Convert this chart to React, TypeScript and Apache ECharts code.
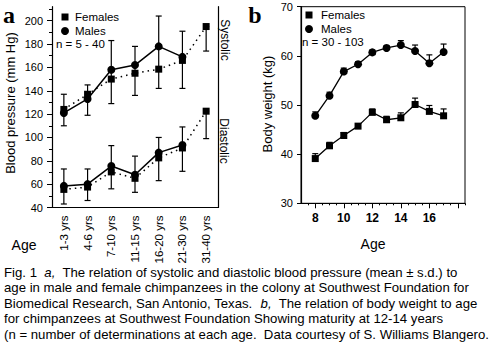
import React, { useEffect, useRef } from 'react';
import * as echarts from 'echarts';

// ---------- Panel a data ----------
const ageGroups = ['1-3 yrs', '4-6 yrs', '7-10 yrs', '11-15 yrs', '16-20 yrs', '21-30 yrs', '31-40 yrs'];
const sysMales = [121, 133, 158, 162, 178, 169, null];
const sysFemales = [124, 137, 150, 155, 158.5, 166, 195];
const sysErrLow = [110, 119, 129, 136, 142, 142, 174];
const sysErrHigh = [137, 145, 183, 178, 204, 191, 195];
const diaMales = [58.5, 60, 75.5, 68, 87, 93.5, null];
const diaFemales = [55.5, 57.5, 70.5, 65, 82.5, 91, 122.5];
const diaErrLow = [43, 46, 56, 53, 63, 71, 99];
const diaErrHigh = [73, 73, 93, 84, 100, 109, 122.5];
const bpTicks = [40, 60, 80, 100, 120, 140, 160, 180, 200];
const bpMinorTicks = [50, 70, 90, 110, 130, 150, 170, 190, 210];

// ---------- Panel b data ----------
const ages = [8, 9, 10, 11, 12, 13, 14, 15, 16, 17];
const weightMales = [47.8, 51.9, 56.8, 58.3, 60.7, 61.6, 62.2, 61.0, 58.5, 60.8];
const weightMalesTop = [48.6, 52.6, 57.5, 58.8, 61.2, 62.1, 63.1, 62.2, 60.2, 62.4];
const weightFemales = [39.1, 41.7, 43.8, 45.7, 48.5, 47.0, 47.4, 50.1, 48.7, 47.8];
const weightFemalesTop = [40.1, 42.4, 44.4, 46.2, 49.2, 47.7, 48.4, 51.4, 49.9, 49.2];
const ageLabelTicks = [8, 10, 12, 14, 16];
const ageMajorTicks = [8, 10, 12, 14, 16, 18];
const ageMinorTicks = [7.5, 8.5, 9, 9.5, 10.5, 11, 11.5, 12.5, 13, 13.5, 14.5, 15, 15.5, 16.5, 17, 17.5, 18.5];

const FONT = 'Liberation Sans, Arial, sans-serif';
const BLACK = '#000';
const CAP = 13.2;

const errBoth = (params: any, api: any) => {
  const x = api.value(0);
  const lo = api.coord([x, api.value(1)]);
  const hi = api.coord([x, api.value(2)]);
  const w = 3;
  const st = { stroke: BLACK, lineWidth: 1.2 };
  return {
    type: 'group',
    children: [
      { type: 'line', shape: { x1: lo[0], y1: lo[1], x2: hi[0], y2: hi[1] }, style: st },
      { type: 'line', shape: { x1: lo[0] - w, y1: lo[1], x2: lo[0] + w, y2: lo[1] }, style: st },
      { type: 'line', shape: { x1: hi[0] - w, y1: hi[1], x2: hi[0] + w, y2: hi[1] }, style: st },
    ],
  };
};

const errUp = (params: any, api: any) => {
  const x = api.value(0);
  const lo = api.coord([x, api.value(1)]);
  const hi = api.coord([x, api.value(2)]);
  const w = 3;
  const st = { stroke: BLACK, lineWidth: 1.2 };
  return {
    type: 'group',
    children: [
      { type: 'line', shape: { x1: lo[0], y1: lo[1], x2: hi[0], y2: hi[1] }, style: st },
      { type: 'line', shape: { x1: hi[0] - w, y1: hi[1], x2: hi[0] + w, y2: hi[1] }, style: st },
    ],
  };
};

const txt = (text: string, x: number, y: number, opts: any = {}) => ({
  type: 'text',
  x,
  y,
  rotation: opts.rotation || 0,
  style: {
    text,
    fill: BLACK,
    fontFamily: opts.family || FONT,
    fontSize: opts.size || 11.5,
    fontWeight: opts.weight || 'normal',
    fontStyle: opts.style || 'normal',
    align: opts.align || 'left',
    textAlign: opts.align || 'left',
    verticalAlign: 'middle',
    textVerticalAlign: 'middle',
    rich: opts.rich,
  },
});

const italicRich = { i: { fontStyle: 'italic', fontFamily: FONT, fontSize: CAP, fill: BLACK } };

export default function App() {
  const ref = useRef<HTMLDivElement>(null);
  useEffect(() => {
    const chart = echarts.init(ref.current!, null, { renderer: 'svg' });
    const axisLabelBase = { color: BLACK, fontFamily: FONT, fontSize: 11 };
    const option: any = {
      animation: false,
      backgroundColor: '#fff',
      grid: [
        { left: 52, top: 6.7, width: 166, height: 200.8 },
        { left: 301, top: 6.7, width: 164, height: 196.6, show: true, borderColor: BLACK, borderWidth: 1, backgroundColor: 'transparent' },
      ],
      xAxis: [
        {
          gridIndex: 0, type: 'category', data: ageGroups, boundaryGap: true,
          axisLine: { lineStyle: { color: BLACK, width: 1.2 } },
          axisTick: { alignWithLabel: true, length: 5, lineStyle: { color: BLACK } },
          axisLabel: { ...axisLabelBase, fontSize: 11.5, rotate: 90, margin: 8, interval: 0 },
          splitLine: { show: false },
        },
        {
          gridIndex: 1, type: 'value', min: 7, max: 18.5,
          axisLine: { lineStyle: { color: BLACK, width: 1.2 } },
          axisTick: { customValues: ageMajorTicks, length: 5, lineStyle: { color: BLACK } },
          axisLabel: { ...axisLabelBase, customValues: ageLabelTicks, fontSize: 12, fontWeight: 'bold', margin: 9 },
          splitLine: { show: false },
        },
        {
          gridIndex: 1, type: 'value', min: 7, max: 18.5, position: 'bottom',
          axisLine: { show: false },
          axisTick: { customValues: ageMinorTicks, length: 2, lineStyle: { color: BLACK } },
          axisLabel: { show: false },
          splitLine: { show: false },
        },
      ],
      yAxis: [
        {
          gridIndex: 0, type: 'value', min: 40, max: 212,
          axisLine: { show: true, lineStyle: { color: BLACK, width: 1.2 } },
          axisTick: { show: true, customValues: bpTicks, length: 5, lineStyle: { color: BLACK } },
          axisLabel: { ...axisLabelBase, customValues: bpTicks, margin: 9 },
          splitLine: { show: false },
        },
        {
          gridIndex: 0, type: 'value', min: 40, max: 212, position: 'left',
          axisLine: { show: false },
          axisTick: { show: true, customValues: bpMinorTicks, length: 3, lineStyle: { color: BLACK } },
          axisLabel: { show: false },
          splitLine: { show: false },
        },
        {
          gridIndex: 0, type: 'value', min: 40, max: 212, position: 'right',
          axisLine: { show: true, lineStyle: { color: BLACK, width: 1.2 } },
          axisTick: { show: false },
          axisLabel: { show: false },
          splitLine: { show: false },
        },
        {
          gridIndex: 1, type: 'value', min: 30, max: 70, interval: 10,
          axisLine: { show: true, lineStyle: { color: BLACK, width: 1.2 } },
          axisTick: { show: true, length: 4, lineStyle: { color: BLACK } },
          axisLabel: { ...axisLabelBase, margin: 8 },
          splitLine: { show: false },
        },
      ],
      series: [
        { type: 'custom', xAxisIndex: 0, yAxisIndex: 0, renderItem: errBoth, encode: { x: 0, y: [1, 2] }, z: 1,
          data: sysErrLow.map((v, i) => [i, v, sysErrHigh[i]]) },
        { type: 'custom', xAxisIndex: 0, yAxisIndex: 0, renderItem: errBoth, encode: { x: 0, y: [1, 2] }, z: 1,
          data: diaErrLow.map((v, i) => [i, v, diaErrHigh[i]]) },
        { name: 'Females', type: 'line', xAxisIndex: 0, yAxisIndex: 0, data: sysFemales, symbol: 'rect', symbolSize: 7, z: 3,
          itemStyle: { color: BLACK }, lineStyle: { color: BLACK, width: 1.5, type: [1.5, 4] } },
        { name: 'Males', type: 'line', xAxisIndex: 0, yAxisIndex: 0, data: sysMales, symbol: 'circle', symbolSize: 8, z: 4,
          itemStyle: { color: BLACK }, lineStyle: { color: BLACK, width: 1.5 } },
        { name: 'Females', type: 'line', xAxisIndex: 0, yAxisIndex: 0, data: diaFemales, symbol: 'rect', symbolSize: 7, z: 3,
          itemStyle: { color: BLACK }, lineStyle: { color: BLACK, width: 1.5, type: [1.5, 4] } },
        { name: 'Males', type: 'line', xAxisIndex: 0, yAxisIndex: 0, data: diaMales, symbol: 'circle', symbolSize: 8, z: 4,
          itemStyle: { color: BLACK }, lineStyle: { color: BLACK, width: 1.5 } },
        { type: 'custom', xAxisIndex: 1, yAxisIndex: 3, renderItem: errUp, encode: { x: 0, y: [1, 2] }, z: 1,
          data: ages.map((a, i) => [a, weightMales[i], weightMalesTop[i]]) },
        { type: 'custom', xAxisIndex: 1, yAxisIndex: 3, renderItem: errUp, encode: { x: 0, y: [1, 2] }, z: 1,
          data: ages.map((a, i) => [a, weightFemales[i], weightFemalesTop[i]]) },
        { name: 'Males', type: 'line', xAxisIndex: 1, yAxisIndex: 3, data: ages.map((a, i) => [a, weightMales[i]]),
          symbol: 'circle', symbolSize: 8, z: 4, itemStyle: { color: BLACK }, lineStyle: { color: BLACK, width: 1.3 } },
        { name: 'Females', type: 'line', xAxisIndex: 1, yAxisIndex: 3, data: ages.map((a, i) => [a, weightFemales[i]]),
          symbol: 'rect', symbolSize: 7, z: 3, itemStyle: { color: BLACK }, lineStyle: { color: BLACK, width: 1.3 } },
      ],
      graphic: [
        // panel letters
        txt('a', 9, 15, { family: 'Liberation Serif, Times New Roman, serif', size: 24, weight: 'bold', align: 'center' }),
        txt('b', 255, 15, { family: 'Liberation Serif, Times New Roman, serif', size: 24, weight: 'bold', align: 'center' }),
        // axis titles
        txt('Blood pressure (mm Hg)', 10, 103, { size: 13, align: 'center', rotation: Math.PI / 2 }),
        txt('Body weight (kg)', 267, 104, { size: 13, align: 'center', rotation: Math.PI / 2 }),
        txt('Age', 24, 245, { size: 14, align: 'center' }),
        txt('Age', 373, 244, { size: 14, align: 'center' }),
        txt('Systolic', 225, 40, { size: 12, align: 'center', rotation: -Math.PI / 2 }),
        txt('Diastolic', 224, 141, { size: 12, align: 'center', rotation: -Math.PI / 2 }),
        // legend a
        { type: 'rect', shape: { x: 61.5, y: 13.5, width: 7, height: 7 }, style: { fill: BLACK } },
        { type: 'circle', shape: { cx: 65, cy: 31, r: 4 }, style: { fill: BLACK } },
        txt('Females', 75, 17),
        txt('Males', 75, 31),
        txt('n = 5 - 40', 56, 44),
        // legend b
        { type: 'rect', shape: { x: 305.5, y: 11.5, width: 7, height: 7 }, style: { fill: BLACK } },
        { type: 'circle', shape: { cx: 309, cy: 29, r: 4 }, style: { fill: BLACK } },
        txt('Females', 321, 15),
        txt('Males', 321, 29),
        txt('n = 30 - 103', 302, 42),
        // caption
        txt('Fig. 1  {i|a,}  The relation of systolic and diastolic blood pressure (mean \u00b1 s.d.) to', 4, 272, { size: CAP, rich: italicRich }),
        txt('age in male and female chimpanzees in the colony at Southwest Foundation for', 4, 287.5, { size: CAP }),
        txt('Biomedical Research, San Antonio, Texas.  {i|b,}  The relation of body weight to age', 4, 303, { size: CAP, rich: italicRich }),
        txt('for chimpanzees at Southwest Foundation Showing maturity at 12-14 years', 4, 318.5, { size: CAP }),
        txt('(n = number of determinations at each age.  Data courtesy of S. Williams Blangero.', 4, 334, { size: CAP }),
      ],
    };
    chart.setOption(option);
    return () => chart.dispose();
  }, []);
  return (
    <div style={{ position: 'absolute', left: 0, top: 0, width: 489, height: 346, background: '#fff' }}>
      <div ref={ref} style={{ width: 489, height: 346 }} />
    </div>
  );
}
